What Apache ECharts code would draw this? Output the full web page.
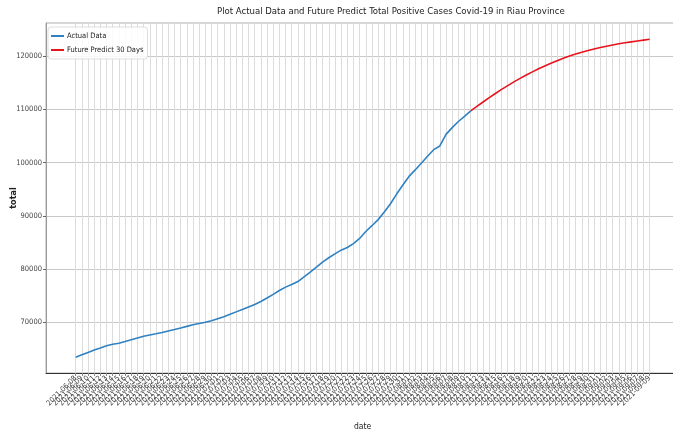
<!DOCTYPE html>
<html>
<head>
<meta charset="utf-8">
<script src="https://cdn.jsdelivr.net/npm/echarts@6.0.0/dist/echarts.min.js"></script>
<style>
  html, body { margin: 0; padding: 0; background: #fff; }
  #main { width: 673px; height: 431px; }
</style>
</head>
<body>
<div id="main"></div>
<script>
// tanggal (sumbu x)
var dates = [
  '2021-06-08', '2021-06-09', '2021-06-10', '2021-06-11', '2021-06-12', '2021-06-13', '2021-06-14', '2021-06-15',
  '2021-06-16', '2021-06-17', '2021-06-18', '2021-06-19', '2021-06-20', '2021-06-21', '2021-06-22', '2021-06-23',
  '2021-06-24', '2021-06-25', '2021-06-26', '2021-06-27', '2021-06-28', '2021-06-29', '2021-06-30',
  '2021-07-01', '2021-07-02', '2021-07-03', '2021-07-04', '2021-07-05', '2021-07-06', '2021-07-07', '2021-07-08',
  '2021-07-09', '2021-07-10', '2021-07-11', '2021-07-12', '2021-07-13', '2021-07-14', '2021-07-15', '2021-07-16',
  '2021-07-17', '2021-07-18', '2021-07-19', '2021-07-20', '2021-07-21', '2021-07-22', '2021-07-23', '2021-07-24',
  '2021-07-25', '2021-07-26', '2021-07-27', '2021-07-28', '2021-07-29', '2021-07-30', '2021-07-31',
  '2021-08-01', '2021-08-02', '2021-08-03', '2021-08-04', '2021-08-05', '2021-08-06', '2021-08-07', '2021-08-08',
  '2021-08-09', '2021-08-10', '2021-08-11', '2021-08-12', '2021-08-13', '2021-08-14', '2021-08-15', '2021-08-16',
  '2021-08-17', '2021-08-18', '2021-08-19', '2021-08-20', '2021-08-21', '2021-08-22', '2021-08-23', '2021-08-24',
  '2021-08-25', '2021-08-26', '2021-08-27', '2021-08-28', '2021-08-29', '2021-08-30', '2021-08-31',
  '2021-09-01', '2021-09-02', '2021-09-03', '2021-09-04', '2021-09-05', '2021-09-06', '2021-09-07', '2021-09-08',
  '2021-09-09'
];

// total kasus positif (data aktual)
var actualData = [
  63450, 63910, 64360, 64810, 65200, 65600, 65910, 66100, 66410, 66740,
  67070, 67390, 67625, 67860, 68100, 68380, 68660, 68950, 69250, 69555,
  69785, 70015, 70290, 70680, 71075, 71510, 71975, 72440, 72900, 73360,
  73930, 74570, 75260, 75990, 76620, 77100, 77670, 78560, 79440, 80360,
  81330, 82130, 82870, 83560, 84050, 84800, 85760, 87060, 88150, 89290,
  90710, 92280, 94090, 95800, 97400, 98620, 99870, 101200, 102420, 103120,
  105300, 106560, 107710, 108670, 109700
];

// prediksi 30 hari (mulai dari titik terakhir data aktual)
var predictData = [
  109700, 110540, 111370, 112180, 112970, 113730, 114450, 115140, 115800, 116430,
  117030, 117600, 118140, 118650, 119130, 119580, 119990, 120370, 120720, 121040,
  121330, 121600, 121850, 122080, 122290, 122480, 122660, 122830, 122990, 123140
];

var yTicks = [70000, 80000, 90000, 100000, 110000, 120000];

var yMin = 60500, yMax = 126200;
var FONT = '"Liberation Sans Narrow", "DejaVu Sans Condensed", "Liberation Sans", sans-serif';

var predictSeries = [];
for (var i = 0; i < actualData.length - 1; i++) predictSeries.push(null);
predictSeries = predictSeries.concat(predictData);

var chart = echarts.init(document.getElementById('main'));
var option = {
  animation: false,
  backgroundColor: '#fff',
  textStyle: { fontFamily: FONT },
  title: {
    text: 'Plot Actual Data and Future Predict Total Positive Cases Covid-19 in Riau Province',
    left: 217,
    top: 7,
    padding: 0,
    textStyle: { fontFamily: FONT, fontSize: 9.5, fontWeight: 'normal', color: '#222' }
  },
  legend: {
    orient: 'vertical',
    left: 48,
    top: 27,
    padding: [5, 4, 5, 3],
    itemGap: 6,
    itemWidth: 13,
    itemHeight: 2,
    icon: 'rect',
    borderColor: '#ddd',
    borderWidth: 1,
    borderRadius: 3,
    backgroundColor: 'rgba(255,255,255,0.85)',
    textStyle: { fontFamily: FONT, fontSize: 7.5, color: '#222', padding: [0, 0, 0, -2] },
    data: ['Actual Data', 'Future Predict 30 Days']
  },
  // label sumbu y (total)
  graphic: [{
    type: 'text',
    x: 14, y: 198,
    rotation: Math.PI / 2,
    style: {
      text: 'total', fontFamily: FONT, fontSize: 9, fontWeight: 'bold', fill: '#222',
      align: 'center', verticalAlign: 'middle'
    }
  }],
  grid: [
    { left: 46, top: 23, width: 633, height: 350, show: true, borderColor: '#b0b0b0', borderWidth: 1,
      containLabel: false, outerBoundsMode: 'none' },
    { left: 75.7, top: 23, width: 574, height: 350, containLabel: false, outerBoundsMode: 'none' }
  ],
  xAxis: [
    {
      gridIndex: 0, type: 'value', min: 0, max: 1,
      axisLine: { show: true, onZero: false, lineStyle: { color: '#333', width: 1 } },
      axisTick: { show: false }, axisLabel: { show: false }, splitLine: { show: false },
      name: 'date', nameLocation: 'middle', nameGap: 49,
      nameTextStyle: { fontFamily: FONT, fontSize: 8.5, color: '#222' }
    },
    {
      gridIndex: 1, type: 'category', data: dates, boundaryGap: false,
      axisLine: { show: false },
      axisTick: { show: true, interval: 0, length: 3, lineStyle: { color: '#888' } },
      axisLabel: { interval: 0, rotate: 45, fontSize: 7.5, color: '#444', margin: 4, fontFamily: FONT },
      splitLine: { show: true, interval: 0, lineStyle: { color: '#dcdcdc', width: 1 } }
    }
  ],
  yAxis: [
    {
      gridIndex: 0, type: 'value', min: yMin, max: yMax,
      axisLine: { show: true, lineStyle: { color: '#999' } },
      axisTick: { show: true, length: 3, customValues: yTicks, lineStyle: { color: '#666' } },
      axisLabel: {
        customValues: yTicks, fontSize: 7.5, color: '#444', margin: 4, fontFamily: FONT,
        formatter: function(v) { return String(v); }
      },
      splitLine: { show: true, lineStyle: { color: '#c8c8c8', width: 1 } }
    },
    { gridIndex: 1, type: 'value', min: yMin, max: yMax, show: false }
  ],
  series: [
    {
      name: 'Actual Data',
      type: 'line',
      xAxisIndex: 1, yAxisIndex: 1,
      showSymbol: false,
      color: '#2f82c2',
      lineStyle: { color: '#2f82c2', width: 1.6 },
      data: actualData
    },
    {
      name: 'Future Predict 30 Days',
      type: 'line',
      xAxisIndex: 1, yAxisIndex: 1,
      showSymbol: false,
      color: '#e8141c',
      lineStyle: { color: '#e8141c', width: 1.6 },
      data: predictSeries
    }
  ]
};
chart.setOption(option);
</script>
</body>
</html>
